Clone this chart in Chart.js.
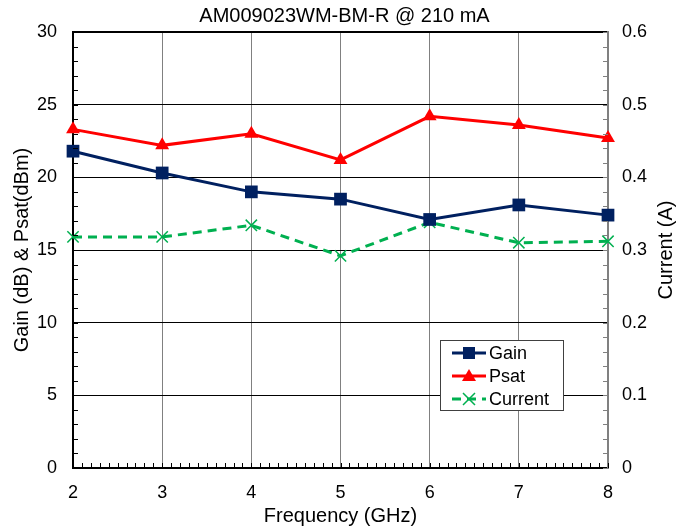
<!DOCTYPE html>
<html>
<head>
<meta charset="utf-8">
<script src="https://cdn.jsdelivr.net/npm/chart.js@4/dist/chart.umd.min.js"></script>
<style>
  body { margin: 0; background: #fff; }
  #wrap { width: 689px; height: 532px; }
</style>
</head>
<body>
<div id="wrap"><canvas id="gainChart" width="689" height="532"></canvas></div>
<script>
// data
const freq = [2, 3, 4, 5, 6, 7, 8];
const gain = [21.8, 20.3, 19.0, 18.5, 17.1, 18.1, 17.4];
const psat = [23.3, 22.2, 23.0, 21.2, 24.2, 23.6, 22.7];
const current = [0.318, 0.318, 0.334, 0.292, 0.338, 0.310, 0.312];

const navy = '#002060';
const red = '#FF0000';
const green = '#00B050';
const fontFamily = '"Liberation Sans", Arial, sans-serif';

Chart.defaults.font.family = fontFamily;
Chart.defaults.color = '#000';

const toXY = (ys) => ys.map((v, i) => ({ x: freq[i], y: v }));

// minor ticks, drawn inward like the original
const minorTicks = {
    id: 'minorTicks',
    afterDraw(chart) {
        const ctx = chart.ctx;
        const a = chart.chartArea;
        const x = chart.scales.x, y = chart.scales.y, y1 = chart.scales.y1;
        ctx.save();
        ctx.lineWidth = 1;
        ctx.strokeStyle = '#000';
        for (let i = 0; i <= 60; i++) {
            const px = Math.round(x.getPixelForValue(2 + i / 10)) + 0.5;
            ctx.beginPath();
            ctx.moveTo(px, a.bottom);
            ctx.lineTo(px, a.bottom - 5);
            ctx.stroke();
        }
        for (let i = 0; i <= 30; i++) {
            const py = Math.round(y.getPixelForValue(i)) + 0.5;
            ctx.beginPath();
            ctx.moveTo(a.left, py);
            ctx.lineTo(a.left + 5, py);
            ctx.stroke();
        }
        ctx.strokeStyle = '#808080';
        for (let i = 0; i <= 30; i++) {
            const py = Math.round(y1.getPixelForValue(i * 0.02)) + 0.5;
            ctx.beginPath();
            ctx.moveTo(a.right, py);
            ctx.lineTo(a.right - 5, py);
            ctx.stroke();
        }
        // right axis title, reading bottom to top
        ctx.fillStyle = '#000';
        ctx.font = '20px ' + fontFamily;
        ctx.translate(666, (a.top + a.bottom) / 2);
        ctx.rotate(-Math.PI / 2);
        ctx.textAlign = 'center';
        ctx.textBaseline = 'middle';
        ctx.fillText('Current (A)', 0, 0);
        ctx.restore();
    }
};

// legend box inside the plot
const boxLegend = {
    id: 'boxLegend',
    afterDraw(chart) {
        const ctx = chart.ctx;
        const bx = 440, by = 340, bw = 123, bh = 70;
        ctx.save();
        ctx.fillStyle = '#fff';
        ctx.fillRect(bx, by, bw, bh);
        ctx.strokeStyle = '#404040';
        ctx.lineWidth = 1;
        ctx.strokeRect(bx + 0.5, by + 0.5, bw, bh);
        chart.data.datasets.forEach((ds, i) => {
            const cy = by + 13 + i * 23;
            const x0 = bx + 12, x1 = bx + 46, cx = (x0 + x1) / 2;
            ctx.strokeStyle = ds.borderColor;
            ctx.lineWidth = 3;
            ctx.setLineDash(ds.borderDash || []);
            ctx.beginPath();
            ctx.moveTo(x0, cy);
            ctx.lineTo(x1, cy);
            ctx.stroke();
            ctx.setLineDash([]);
            ctx.fillStyle = ds.pointBackgroundColor;
            ctx.strokeStyle = ds.pointBorderColor;
            if (ds.pointStyle === 'rect') {
                ctx.fillRect(cx - 6, cy - 6, 12, 12);
            } else if (ds.pointStyle === 'triangle') {
                ctx.beginPath();
                ctx.moveTo(cx, cy - 7);
                ctx.lineTo(cx + 7, cy + 5);
                ctx.lineTo(cx - 7, cy + 5);
                ctx.closePath();
                ctx.fill();
            } else {
                ctx.lineWidth = 1.5;
                ctx.beginPath();
                ctx.moveTo(cx - 6, cy - 6); ctx.lineTo(cx + 6, cy + 6);
                ctx.moveTo(cx + 6, cy - 6); ctx.lineTo(cx - 6, cy + 6);
                ctx.stroke();
            }
            ctx.fillStyle = '#000';
            ctx.font = '18px ' + fontFamily;
            ctx.textBaseline = 'middle';
            ctx.fillText(ds.label, x1 + 3, cy + 1);
        });
        ctx.restore();
    }
};

const gainChart = new Chart(document.getElementById('gainChart'), {
    type: 'line',
    data: {
        datasets: [
            {
                label: 'Gain',
                data: toXY(gain),
                yAxisID: 'y',
                clip: false,
                borderColor: navy,
                borderWidth: 3,
                pointStyle: 'rect',
                pointRadius: 9,
                pointBackgroundColor: navy,
                pointBorderColor: navy,
                pointBorderWidth: 0
            },
            {
                label: 'Psat',
                data: toXY(psat),
                yAxisID: 'y',
                clip: false,
                borderColor: red,
                borderWidth: 3,
                pointStyle: 'triangle',
                pointRadius: 8,
                pointBackgroundColor: red,
                pointBorderColor: red,
                pointBorderWidth: 0
            },
            {
                label: 'Current',
                data: toXY(current),
                yAxisID: 'y1',
                clip: false,
                borderColor: green,
                borderWidth: 3,
                borderDash: [9, 6],
                pointStyle: 'crossRot',
                pointRadius: 8,
                pointBackgroundColor: green,
                pointBorderColor: green,
                pointBorderWidth: 1.5
            }
        ]
    },
    options: {
        responsive: false,
        animation: false,
        layout: { padding: 0 },
        plugins: {
            legend: { display: false },
            tooltip: { enabled: false },
            title: {
                display: true,
                text: 'AM009023WM-BM-R @ 210 mA',
                font: { size: 20, weight: 'normal' },
                color: '#000',
                padding: { top: 4, bottom: 4 }
            }
        },
        scales: {
            x: {
                type: 'linear',
                min: 2,
                max: 8,
                ticks: { stepSize: 1, font: { size: 18 }, padding: 14 },
                grid: { color: '#808080', lineWidth: 1, drawTicks: false },
                border: { color: '#000', width: 2 },
                title: { display: true, text: 'Frequency (GHz)', font: { size: 20 }, padding: { top: 2 } },
                afterFit: (s) => { s.height = 64; }
            },
            y: {
                position: 'left',
                min: 0,
                max: 30,
                ticks: { stepSize: 5, font: { size: 18 }, padding: 16 },
                grid: {
                    color: '#000',
                    lineWidth: (c) => (c.tick && c.tick.value === 30 ? 2 : 1),
                    drawTicks: false
                },
                border: { color: '#000', width: 2 },
                title: { display: true, text: 'Gain (dB) & Psat(dBm)', font: { size: 20 }, padding: { top: 10, bottom: 0 } },
                afterFit: (s) => { s.width = 73; }
            },
            y1: {
                position: 'right',
                min: 0,
                max: 0.6,
                ticks: { stepSize: 0.1, font: { size: 18 }, padding: 14 },
                grid: { drawOnChartArea: false, drawTicks: false },
                border: { color: '#808080', width: 2 },
                afterFit: (s) => { s.width = 81; }
            }
        }
    },
    plugins: [minorTicks, boxLegend]
});
</script>
</body>
</html>
